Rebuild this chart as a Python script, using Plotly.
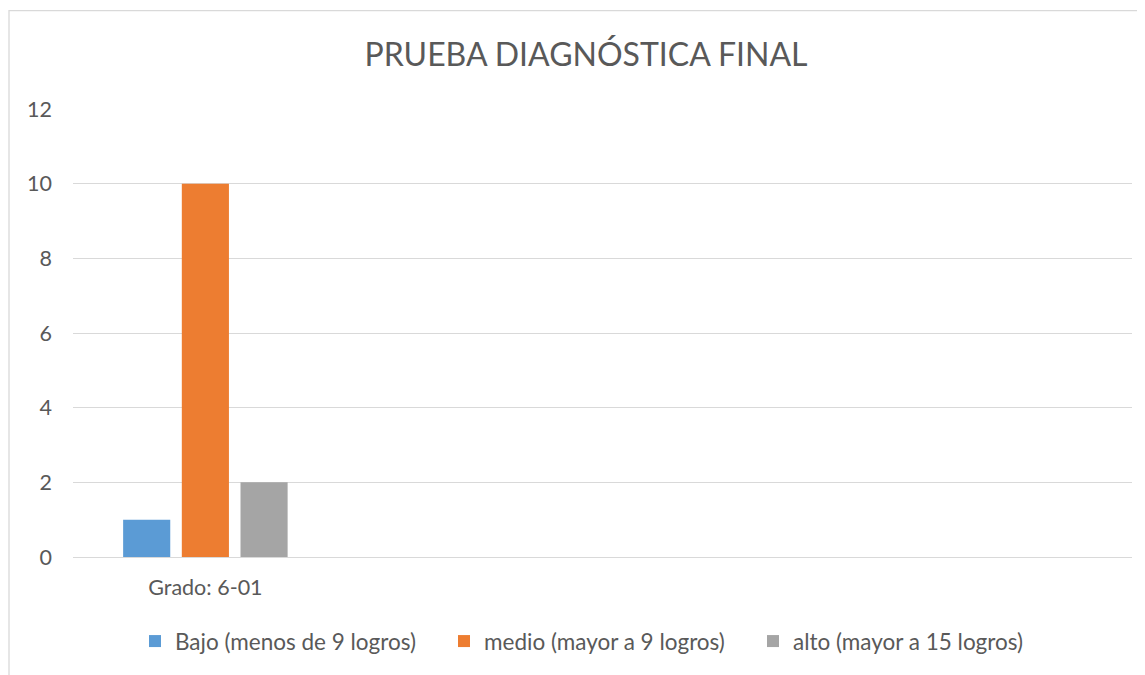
import plotly.graph_objects as go

categories = ["Grado: 6-01"]
series_names = ["Bajo (menos de 9 logros)", "medio (mayor a 9 logros)", "alto (mayor a 15 logros)"]
bajo = [1]
medio = [10]
alto = [2]
colors = ["#5B9BD5", "#ED7D31", "#A5A5A5"]
title_text = "PRUEBA DIAGNÓSTICA FINAL"

FONT = "Lato"
TXT = "#595959"

fig = go.Figure()
for name, vals, col in zip(series_names, [bajo, medio, alto], colors):
    fig.add_trace(go.Bar(x=categories, y=vals, name=name, marker=dict(color=col, line=dict(width=0))))

# page body has an 8px margin; reference pixel p maps to figure pixel p - 8
OFF = 8
W, H = 1145 - OFF, 675 - OFF
L, R, T, B = 73 - OFF, 13, 109 - OFF, 115
pw = W - L - R
ph = H - T - B

def px_to_paper_x(px):
    return (px - OFF - L) / pw

def px_to_paper_y(py):
    return (H - B - (py - OFF)) / ph

fig.update_layout(
    width=W, height=H,
    margin=dict(l=L, r=R, t=T, b=B),
    paper_bgcolor="white", plot_bgcolor="white",
    barmode="group", bargap=0.335, bargroupgap=0.197,
    font=dict(family=FONT, color=TXT, size=22),
    title=dict(text=title_text, x=px_to_paper_x(586), xref="paper", xanchor="center",
               y=1 - (55 - OFF) / H, yanchor="middle", font=dict(size=32, color=TXT, family=FONT)),
    showlegend=True,
    legend=dict(orientation="h", x=px_to_paper_x(135), xanchor="left",
                y=px_to_paper_y(645), yanchor="middle", font=dict(size=22.5, color=TXT),
                itemsizing="constant", entrywidth=264, entrywidthmode="pixels"),
    xaxis=dict(type="category", range=[-0.5, 3.5], showgrid=False, showline=False,
               ticks="", tickfont=dict(size=21.5, color=TXT), ticklabelstandoff=15),
    yaxis=dict(range=[0, 12], dtick=2, showgrid=True, gridcolor="#D9D9D9", gridwidth=1.3,
               zeroline=True, zerolinecolor="#D9D9D9", zerolinewidth=1.3, showline=False,
               ticks="", tickfont=dict(size=21.5, color=TXT), ticklabelstandoff=20),
    shapes=[dict(type="rect", xref="paper", yref="paper",
                 x0=px_to_paper_x(9), x1=px_to_paper_x(1200),
                 y0=px_to_paper_y(720), y1=px_to_paper_y(10),
                 line=dict(color="#D9D9D9", width=1.3), fillcolor="rgba(0,0,0,0)", layer="below")],
)

fig.write_html("out.html")
